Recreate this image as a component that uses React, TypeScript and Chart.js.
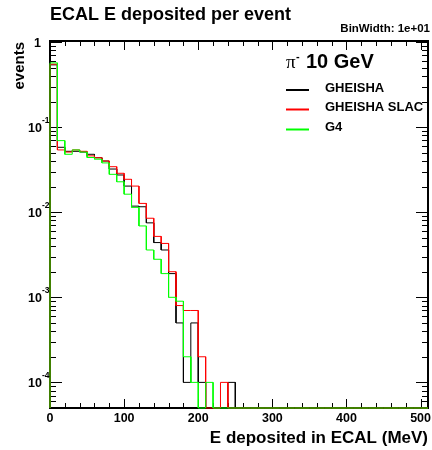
import React, { useEffect, useRef } from 'react';
import { Chart, registerables } from 'chart.js';

Chart.register(...registerables);

// ---- data (bin width 10 MeV, 51 bins from 0 to 510) ----
const BIN_WIDTH = 10;
const X_MIN = 0;
const X_MAX = 510;
const Y_MIN = 5e-5;
const Y_MAX = 1.03;

const gheisha = [
  0.54, 0.058, 0.052, 0.052, 0.051, 0.048, 0.0437, 0.040, 0.0322, 0.0274,
  0.0203, 0.0118, 0.0116, 0.0075, 0.0044, 0.0036, 0.0019, 0.0005, 0.0001, 0.0005,
  0.0001, 0, 0, 0, 0.0001, 0, 0, 0, 0, 0,
  0, 0, 0, 0, 0, 0, 0, 0, 0, 0,
  0, 0, 0, 0, 0, 0, 0, 0, 0, 0,
  0,
];
const gheishaSlac = [
  0.55, 0.054, 0.051, 0.054, 0.052, 0.046, 0.0437, 0.040, 0.0343, 0.0287,
  0.0244, 0.0203, 0.0127, 0.0085, 0.0052, 0.0043, 0.002, 0.0008, 0.0007, 0.0007,
  0.0002, 0, 0, 0.0001, 0, 0, 0, 0, 0, 0,
  0, 0, 0, 0, 0, 0, 0, 0, 0, 0,
  0, 0, 0, 0, 0, 0, 0, 0, 0, 0,
  0,
];
const g4 = [
  0.57, 0.0695, 0.048, 0.054, 0.051, 0.044, 0.042, 0.038, 0.0279, 0.0228,
  0.0163, 0.0114, 0.0069, 0.0036, 0.0028, 0.0019, 0.001, 0.0009, 0.0002, 0.0001,
  0, 0.0001, 0, 0, 0, 0, 0, 0, 0, 0,
  0, 0, 0, 0, 0, 0, 0, 0, 0, 0,
  0, 0, 0, 0, 0, 0, 0, 0, 0, 0,
  0,
];

const seriesNames = ['GHEISHA', 'GHEISHA SLAC', 'G4'];
const seriesColors = ['#000000', '#ff0000', '#00ff00'];

const X_TICK_LABELS = [0, 100, 200, 300, 400, 500];
const X_MINOR_STEP = 20;
const X_TICK_END = 500;
const Y_DECADES = [0, -1, -2, -3, -4];

const TITLE = 'ECAL E deposited per event';
const BINWIDTH_TEXT = 'BinWidth: 1e+01';
const X_TITLE = 'E deposited in ECAL (MeV)';
const Y_TITLE = 'events';
const LEGEND_HEADER = '10 GeV';

const SANS = "'Liberation Sans', Arial, Helvetica, sans-serif";

function histPoints(values: number[]) {
  const pts: { x: number; y: number }[] = [{ x: X_MIN, y: Y_MIN }];
  values.forEach((v, i) => {
    const lo = X_MIN + i * BIN_WIDTH;
    const hi = lo + BIN_WIDTH;
    const y = v > 0 ? v : Y_MIN;
    pts.push({ x: lo, y });
    pts.push({ x: hi, y });
  });
  return pts;
}

const rootPlugin = {
  id: 'rootDecor',
  beforeDatasetsDraw(chart: any) {
    const { ctx, chartArea: a } = chart;
    const xs = chart.scales.x;
    const ys = chart.scales.y;
    ctx.save();
    ctx.strokeStyle = '#000';
    ctx.lineWidth = 1;
    ctx.beginPath();
    for (let v = X_MIN; v <= X_TICK_END; v += X_MINOR_STEP) {
      const px = Math.round(xs.getPixelForValue(v)) + 0.5;
      const len = v % 100 === 0 ? 9 : 5;
      ctx.moveTo(px, a.bottom);
      ctx.lineTo(px, a.bottom - len);
      ctx.moveTo(px, a.top);
      ctx.lineTo(px, a.top + len);
    }
    for (let d = -5; d <= 0; d++) {
      for (let k = 1; k <= 9; k++) {
        const v = k * Math.pow(10, d);
        if (v < Y_MIN || v > Y_MAX) continue;
        const py = Math.round(ys.getPixelForValue(v)) + 0.5;
        const len = k === 1 ? 12 : 6;
        ctx.moveTo(a.left, py);
        ctx.lineTo(a.left + len, py);
        ctx.moveTo(a.right, py);
        ctx.lineTo(a.right - len, py);
      }
    }
    ctx.stroke();
    ctx.lineWidth = 2;
    ctx.strokeRect(a.left, a.top, a.right - a.left, a.bottom - a.top);
    ctx.restore();
  },
  afterDraw(chart: any) {
    const { ctx, chartArea: a } = chart;
    const xs = chart.scales.x;
    const ys = chart.scales.y;
    ctx.save();
    ctx.fillStyle = '#000';
    ctx.textBaseline = 'alphabetic';

    // title
    ctx.font = `bold 18px ${SANS}`;
    ctx.textAlign = 'left';
    ctx.fillText(TITLE, 50, 20);

    // bin width
    ctx.font = `bold 11.5px ${SANS}`;
    ctx.textAlign = 'right';
    ctx.fillText(BINWIDTH_TEXT, 430, 31.5);

    // x tick labels
    ctx.font = `bold 12.5px ${SANS}`;
    ctx.textAlign = 'center';
    X_TICK_LABELS.forEach((v) => {
      ctx.fillText(String(v), xs.getPixelForValue(v), 421.5);
    });

    // y tick labels
    Y_DECADES.forEach((d) => {
      const py = ys.getPixelForValue(Math.pow(10, d));
      ctx.font = `bold 12.5px ${SANS}`;
      ctx.textAlign = 'right';
      if (d === 0) {
        ctx.fillText('1', 41, py + 4.5);
      } else {
        ctx.fillText('10', 42, py + 4.5);
        ctx.font = `bold 8.5px ${SANS}`;
        ctx.textAlign = 'left';
        ctx.fillText(String(d), 42, py - 4);
      }
    });

    // x title
    ctx.font = `bold 17px ${SANS}`;
    ctx.textAlign = 'right';
    ctx.fillText(X_TITLE, 428, 443);

    // y title
    ctx.save();
    ctx.translate(24, a.top + 1);
    ctx.rotate(-Math.PI / 2);
    ctx.font = `bold 15px ${SANS}`;
    ctx.textAlign = 'right';
    ctx.fillText(Y_TITLE, 0, 0);
    ctx.restore();

    // legend header
    ctx.textAlign = 'left';
    ctx.font = `19px 'Liberation Serif', 'DejaVu Serif', serif`;
    ctx.fillText('\u03c0', 286, 67.5);
    ctx.font = `bold 11px ${SANS}`;
    ctx.fillText('-', 296, 60);
    ctx.font = `bold 20px ${SANS}`;
    ctx.fillText(LEGEND_HEADER, 306, 67.5);

    // legend entries
    const rows = [90, 109.5, 129.5];
    seriesNames.forEach((name, i) => {
      const y = rows[i];
      ctx.strokeStyle = seriesColors[i];
      ctx.lineWidth = 2;
      ctx.beginPath();
      ctx.moveTo(286, y);
      ctx.lineTo(309, y);
      ctx.stroke();
      ctx.font = `bold 13px ${SANS}`;
      ctx.textBaseline = 'middle';
      ctx.fillText(name, 325, y - 2);
      ctx.textBaseline = 'alphabetic';
    });

    ctx.restore();
  },
};

export default function App() {
  const ref = useRef<HTMLCanvasElement | null>(null);

  useEffect(() => {
    if (!ref.current) return;
    const series = [gheisha, gheishaSlac, g4];
    const chart = new Chart(ref.current, {
      type: 'line',
      data: {
        datasets: series.map((vals, i) => ({
          label: seriesNames[i],
          data: histPoints(vals),
          borderColor: seriesColors[i],
          borderWidth: 1,
          pointRadius: 0,
          fill: false,
          tension: 0,
          clip: false as any,
          order: 3 - i,
        })),
      },
      options: {
        responsive: false,
        devicePixelRatio: 1,
        animation: false,
        parsing: false as any,
        normalized: true,
        layout: { padding: { left: 50, right: 4, top: 41, bottom: 42 } },
        scales: {
          x: { type: 'linear', min: X_MIN, max: X_MAX, display: false },
          y: { type: 'logarithmic', min: Y_MIN, max: Y_MAX, display: false },
        },
        plugins: {
          legend: { display: false },
          title: { display: false },
          tooltip: { enabled: false },
        },
        events: [],
      },
      plugins: [rootPlugin],
    });
    return () => chart.destroy();
  }, []);

  return (
    <div style={{ position: 'fixed', left: 0, top: 0, width: 432, height: 450, background: '#fff' }}>
      <canvas ref={ref} width={432} height={450} style={{ display: 'block' }} />
    </div>
  );
}
